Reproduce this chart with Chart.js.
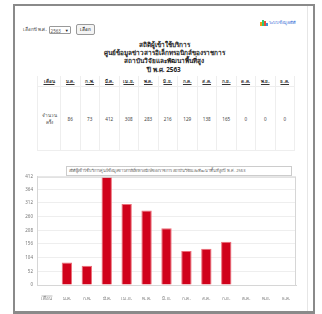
<!DOCTYPE html>
<html>
<head>
<meta charset="utf-8">
<script src="https://cdn.jsdelivr.net/npm/chart.js@4.4.0/dist/chart.umd.min.js"></script>
<style>
    body { margin: 0; background: #fff; font-family: "Noto Sans", sans-serif; }
    #frame { position: absolute; left: 13px; top: 4px; width: 298px; height: 305px; border: 2px solid #8a8a8a; border-bottom-width: 3px; }
    #scrollEdge { position: absolute; left: 292px; top: 0; width: 1px; height: 100%; background: #e6e6e6; }
    #form { position: absolute; left: 8px; top: 18px; font-size: 4.5px; color: #333; display: flex; align-items: center; }
    #form .sel { display: inline-block; font-size: 4.5px; height: 8px; line-height: 8px; width: 22px; padding-left: 1px; margin: 0 5px 0 2px; border: 1px solid #999; border-radius: 1px; box-sizing: border-box; color: #555; }
    #form .sel b { float: right; font-size: 4px; margin-right: 1px; color: #222; }
    #form button { font-size: 4.5px; height: 11px; width: 19px; padding: 0; background: #f4f4f4; border: 1px solid #999; border-radius: 2px; }
    #logo { position: absolute; left: 245px; top: 13px; font-size: 4px; color: #3a6fd8; display: flex; align-items: flex-end; }
    #logo i { display: inline-block; width: 1.5px; margin-right: 0.5px; }
    #title { position: absolute; left: 0; top: 35px; width: 298px; text-align: center; font-weight: bold; font-size: 6.4px; line-height: 8.2px; color: #222; }
    #tbl { position: absolute; left: 22px; top: 70px; width: 257px; table-layout: fixed; border-collapse: collapse; font-size: 4.6px; color: #444; }
    #tbl th, #tbl td { border-left: 1px solid #eee; border-right: 1px solid #eee; text-align: center; padding: 0; overflow: hidden; }
    #tbl th { height: 10px; border-bottom: 1px solid #eee; font-weight: bold; text-decoration: underline; color: #333; }
    #tbl td { height: 63px; border-bottom: 1px solid #eee; }
    #legendBox { position: absolute; left: 51px; top: 160px; width: 222px; height: 8px; border: 1px solid #ccc; background: #fff; font-size: 4px; line-height: 8px; color: #666; padding-left: 2px; white-space: nowrap; overflow: hidden; }
    #chartWrap { position: absolute; left: 0; top: 164px; width: 282px; height: 131px; }
</style>
</head>
<body>
<div id="frame">
    <div id="scrollEdge"></div>
    <div id="form">เลือกปี พ.ศ. <span class="sel">2563<b>▼</b></span><button>เลือก</button></div>
    <div id="logo"><i style="height:4px;background:#f39c12"></i><i style="height:6px;background:#2ecc71"></i><i style="height:5px;background:#e74c3c"></i><i style="height:3px;background:#3498db"></i>&nbsp;ระบบข้อมูลสถิติ</div>
    <div id="title">สถิติผู้เข้าใช้บริการ<br>ศูนย์ข้อมูลข่าวสารอิเล็กทรอนิกส์ของราชการ<br>สถาบันวิจัยและพัฒนาพื้นที่สูง<br>ปี พ.ศ. 2563</div>
    <table id="tbl"><colgroup id="cols"></colgroup><tr id="headRow"></tr><tr id="dataRow"></tr></table>
    <div id="chartWrap"><canvas id="bar-chart"></canvas></div>
    <div id="legendBox">สถิติผู้เข้าใช้บริการศูนย์ข้อมูลข่าวสารอิเล็กทรอนิกส์ของราชการ สถาบันวิจัยและพัฒนาพื้นที่สูงปี พ.ศ. 2563</div>
</div>
<script>
    const months = ['เดือน', 'ม.ค.', 'ก.พ.', 'มี.ค.', 'เม.ย.', 'พ.ค.', 'มิ.ย.', 'ก.ค.', 'ส.ค.', 'ก.ย.', 'ต.ค.', 'พ.ย.', 'ธ.ค.'];
    const visits = [null, 86, 73, 412, 308, 283, 216, 129, 138, 165, 0, 0, 0];
    const yTicks = [0, 52, 104, 156, 208, 260, 312, 364, 412];
    const legendText = 'สถิติผู้เข้าใช้บริการศูนย์ข้อมูลข่าวสารอิเล็กทรอนิกส์ของราชการ สถาบันวิจัยและพัฒนาพื้นที่สูงปี พ.ศ. 2563';

    // table
    const cols = document.getElementById('cols');
    const headRow = document.getElementById('headRow');
    const dataRow = document.getElementById('dataRow');
    months.forEach((m, i) => {
        const col = document.createElement('col');
        col.style.width = i === 0 ? '23px' : '19.5px';
        cols.appendChild(col);
        const th = document.createElement('th');
        th.textContent = m;
        headRow.appendChild(th);
        const td = document.createElement('td');
        if (i === 0) {
            td.innerHTML = 'จำนวน<br>ครั้ง';
        } else {
            td.textContent = visits[i];
        }
        dataRow.appendChild(td);
    });

    const tickFont = { family: '"Noto Sans", sans-serif', size: 4.5 };

    const boxPlugin = {
        id: 'areaBox',
        afterDraw(chart) {
            const a = chart.chartArea;
            const ctx = chart.ctx;
            ctx.save();
            ctx.strokeStyle = '#d6d6d6';
            ctx.lineWidth = 1;
            ctx.strokeRect(a.left + 0.5, a.top + 0.5, a.right - a.left - 1, a.bottom - a.top);
            // underline under first x label (เดือน)
            const xs = chart.scales.x;
            const x0 = xs.getPixelForTick(0);
            ctx.font = '4.5px "Noto Sans", sans-serif';
            const w = ctx.measureText(months[0]).width;
            ctx.strokeStyle = '#777';
            ctx.lineWidth = 0.5;
            ctx.beginPath();
            ctx.moveTo(x0 - w / 2, a.bottom + 11);
            ctx.lineTo(x0 + w / 2, a.bottom + 11);
            ctx.stroke();
            ctx.restore();
        }
    };

    new Chart(document.getElementById('bar-chart'), {
        type: 'bar',
        data: {
            labels: months,
            datasets: [{
                label: legendText,
                data: visits,
                backgroundColor: 'rgb(208, 2, 27)',
                borderColor: 'rgb(236, 110, 120)',
                borderWidth: 1,
                categoryPercentage: 1,
                barPercentage: 0.52
            }]
        },
        options: {
            animation: false,
            responsive: true,
            maintainAspectRatio: false,
            layout: { padding: { top: 6, right: 1, left: 0, bottom: 0 } },
            plugins: {
                legend: { display: false },
                tooltip: { enabled: false }
            },
            scales: {
                x: {
                    grid: { display: false },
                    border: { color: '#d6d6d6' },
                    ticks: { color: '#777', font: tickFont, maxRotation: 0, autoSkip: false, padding: 3 },
                    afterFit(scale) { scale.height = 16; }
                },
                y: {
                    min: 0,
                    max: 412,
                    grid: { color: '#eeeeee', drawTicks: false },
                    border: { color: '#d6d6d6' },
                    ticks: { color: '#777', font: tickFont, padding: 4 },
                    afterBuildTicks(scale) { scale.ticks = yTicks.map(v => ({ value: v })); },
                    afterFit(scale) { scale.width = 22; }
                }
            }
        },
        plugins: [boxPlugin]
    });
</script>
</body>
</html>
